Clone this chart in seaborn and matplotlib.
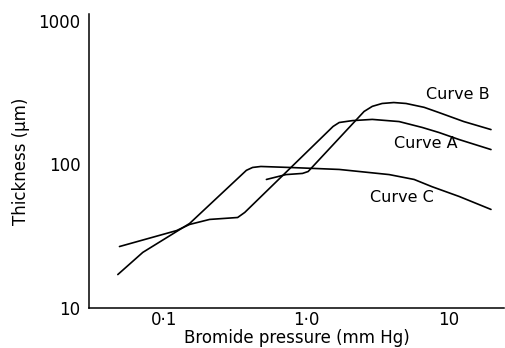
import matplotlib
matplotlib.use("Agg")
import matplotlib.pyplot as plt
import seaborn as sns

sns.set_style("white")
plt.rcParams['font.family'] = ['DejaVu Sans']
plt.rcParams['text.color'] = 'black'
plt.rcParams['axes.labelcolor'] = 'black'

# curve values (pressure in mm Hg, thickness in um)
a_p = [0.049, 0.123, 0.152, 0.21, 0.33, 0.37, 1.54, 1.70, 2.1, 2.9, 4.47, 6.5, 8.5, 11.8, 19.7]
a_t = [26.8, 34.6, 38.2, 41.4, 42.7, 46.3, 184, 196, 202, 206, 199, 181, 167, 149, 127]

b_p = [0.525, 0.72, 0.94, 1.03, 2.54, 2.9, 3.4, 4.1, 5.0, 6.7, 8.5, 12.7, 19.7]
b_t = [78.6, 85, 86.6, 89.3, 234, 254, 266, 270, 266, 250, 230, 199, 175]

c_p = [0.0477, 0.0714, 0.152, 0.38, 0.42, 0.48, 0.76, 1.70, 3.81, 5.7, 7.6, 11.8, 19.7]
c_t = [17.1, 24.4, 38.8, 91, 95.3, 96.8, 95.3, 92.3, 85, 78.6, 70, 59.8, 48.6]

labels = ["Curve A", "Curve B", "Curve C"]
label_pos = [(6.9, 140), (11.6, 307), (4.7, 59)]

x_ticks = [0.1, 1.0, 10]
x_ticklabels = ["0\u00b71", "1\u00b70", "10"]
y_ticks = [10, 100, 1000]
y_ticklabels = ["10", "100", "1000"]

fig = plt.figure(figsize=(5.05, 3.48), dpi=100)
ax = fig.add_axes([0.176, 0.115, 0.822, 0.845])

for xs, ys in [(a_p, a_t), (b_p, b_t), (c_p, c_t)]:
    sns.lineplot(x=xs, y=ys, ax=ax, color="black", lw=1.2, sort=False, estimator=None)

ax.set_xscale("log")
ax.set_yscale("log")
ax.set_xlim(0.0299, 24.3)
ax.set_ylim(10, 1119)

for txt, (px, py) in zip(labels, label_pos):
    ax.text(px, py, txt, ha="center", va="center", fontsize=11.5, color="black")

ax.minorticks_off()
ax.set_xticks(x_ticks)
ax.set_xticklabels(x_ticklabels)
ax.set_yticks(y_ticks)
ax.set_yticklabels(y_ticklabels)
ax.tick_params(direction="in", length=5, width=1, labelsize=12, colors="black")
ax.tick_params(axis="x", pad=2)
ax.tick_params(axis="y", pad=6)

sns.despine(ax=ax)
for s in ["left", "bottom"]:
    ax.spines[s].set_color("black")
    ax.spines[s].set_linewidth(1.1)

ax.set_xlabel("Bromide pressure (mm Hg)", fontsize=12, labelpad=0, color="black")
ax.set_ylabel("Thickness (\u03bcm)", fontsize=12, labelpad=6, color="black")

fig.savefig("out.png", dpi=100)
